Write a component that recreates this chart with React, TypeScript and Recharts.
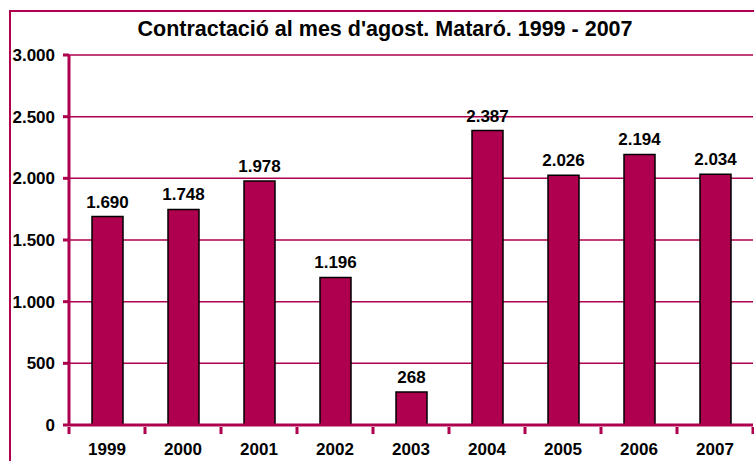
import React from 'react';
import { BarChart, Bar, XAxis, YAxis, CartesianGrid, LabelList } from 'recharts';

const years = ['1999', '2000', '2001', '2002', '2003', '2004', '2005', '2006', '2007'];
const contracts = [1690, 1748, 1978, 1196, 268, 2387, 2026, 2194, 2034];
const yTicks = [0, 500, 1000, 1500, 2000, 2500, 3000];

const data = years.map((year, i) => ({ year, value: contracts[i] }));

const MAROON = '#AE004E';
const FONT = '"Liberation Sans", Arial, sans-serif';

// thousands with a dot, like the Catalan original
const fmt = (v: number) => v.toLocaleString('de-DE');

const XTick = (props: any) => {
  const { x, y, payload, index } = props;
  const half = 38;
  const last = index === years.length - 1;
  return (
    <g>
      <line x1={x - half} x2={x - half} y1={y - 6} y2={y + 1} stroke={MAROON} strokeWidth={3} />
      {last && <line x1={x + half} x2={x + half} y1={y - 6} y2={y + 1} stroke={MAROON} strokeWidth={3} />}
      <text x={x} y={y + 22} textAnchor='middle' fontSize={17} fontWeight='bold' fill='#000' fontFamily={FONT}>
        {payload.value}
      </text>
    </g>
  );
};

export default function App() {
  return (
    <div style={{ position: 'absolute', left: 0, top: 0, width: 754, height: 461, overflow: 'hidden', background: '#fff', fontFamily: FONT }}>
      <div
        style={{
          position: 'absolute',
          left: 9,
          top: 10,
          width: 800,
          height: 500,
          border: `2px solid ${MAROON}`
        }}
      />
      <div
        style={{
          position: 'absolute',
          left: 0,
          top: 17,
          width: 770,
          textAlign: 'center',
          fontSize: 21.5,
          fontWeight: 'bold',
          color: '#000'
        }}
      >
        Contractació al mes d'agost. Mataró. 1999 - 2007
      </div>
      <div style={{ position: 'absolute', left: 0, top: 0 }}>
        <BarChart width={754} height={461} data={data} margin={{ top: 55, right: 1, left: 0, bottom: 0 }}>
          <CartesianGrid vertical={false} stroke={MAROON} strokeWidth={1.5} />
          <XAxis
            dataKey='year'
            height={36}
            axisLine={{ stroke: MAROON, strokeWidth: 3 }}
            tickLine={false}
            tick={<XTick />}
            interval={0}
          />
          <YAxis
            width={69}
            domain={[0, 3000]}
            ticks={yTicks}
            interval={0}
            tickFormatter={fmt}
            axisLine={{ stroke: MAROON, strokeWidth: 3 }}
            tickLine={{ stroke: MAROON, strokeWidth: 3 }}
            tickSize={6}
            tickMargin={8}
            tick={{ fontSize: 17, fontWeight: 'bold', fill: '#000', fontFamily: FONT }}
          />
          <Bar dataKey='value' fill={MAROON} stroke='#000' strokeWidth={1.5} barSize={31} isAnimationActive={false}>
            <LabelList
              dataKey='value'
              position='top'
              offset={9}
              formatter={(v: any) => fmt(Number(v))}
              style={{ fontSize: 17, fontWeight: 'bold', fill: '#000', fontFamily: FONT }}
            />
          </Bar>
        </BarChart>
      </div>
    </div>
  );
}
